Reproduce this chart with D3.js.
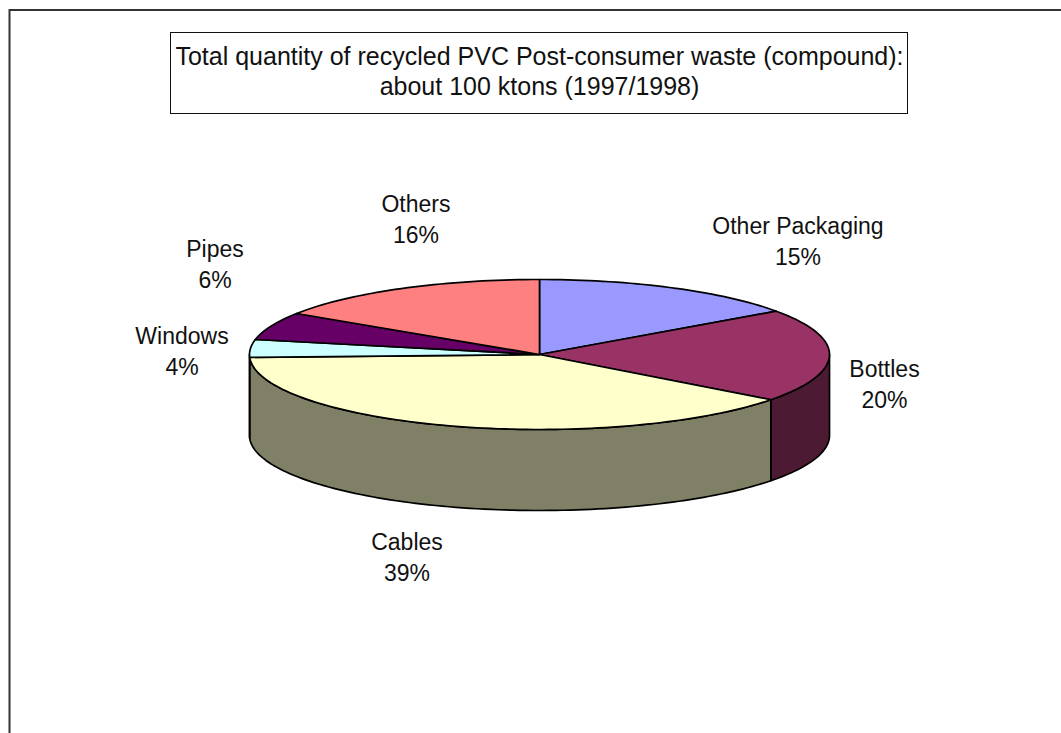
<!DOCTYPE html>
<html><head><meta charset="utf-8">
<script src="https://cdn.jsdelivr.net/npm/d3@7/dist/d3.min.js"></script>
<style>html,body{margin:0;padding:0;background:#fff;overflow:hidden}svg{display:block}text{font-family:"Liberation Sans",Arial,sans-serif;fill:#111}</style>
</head><body><svg id="c" width="1061" height="733"></svg>
<script>
const categories = ["Other Packaging","Bottles","Cables","Windows","Pipes","Others"];
const values = [15.2, 20.1, 39.1, 3.8, 6, 15.8];
const topColors = ["#9999ff","#993366","#ffffcc","#ccffff","#660066","#ff8080"];
const sideColors = ["#4d4d80","#4d1a33","#808066","#668080","#330033","#804040"];
const titleLines = ["Total quantity of recycled PVC Post-consumer waste (compound):","about 100 ktons (1997/1998)"];

const cx=539.5, cy=354.5, rx=290, ry=75, depth=81;
const labelPos = [[798,234],[884.5,377],[407,550],[182,344],[215,257],[416,212]];

const svg=d3.select("#c");
svg.append("path").attr("d",d3.line()([[9.5,760],[9.5,10],[1075,10]])).attr("fill","none").attr("stroke","#333").attr("stroke-width",2);
svg.append("rect").attr("x",170.5).attr("y",32.5).attr("width",737).attr("height",81).attr("fill","#fff").attr("stroke","#111").attr("stroke-width",1);
svg.selectAll("text.t").data(titleLines).join("text").attr("class","t")
  .attr("x",539.5).attr("y",(d,i)=>65+i*30).attr("text-anchor","middle").attr("font-size",25).text(d=>d);

const arcs=d3.pie().sort(null).value(d=>d)(values);
const sx=d3.scaleLinear().domain([-1,1]).range([cx-rx,cx+rx]);
const sy=d3.scaleLinear().domain([-1,1]).range([cy-ry,cy+ry]);
const pt=(a,dy=0)=>[sx(Math.sin(a)),sy(-Math.cos(a))+dy];
const samples=(a0,a1)=>{const n=Math.max(2,Math.ceil((a1-a0)*40));return d3.range(n+1).map(i=>a0+(a1-a0)*i/n);};
const line=d3.line();

// Visible outer wall: the front half of the rim, from 90deg to 270deg
const wall=svg.append("g");
arcs.forEach((d,i)=>{
  const a0=Math.max(d.startAngle,Math.PI/2), a1=Math.min(d.endAngle,Math.PI*1.5);
  if(a1<=a0) return;
  const s=samples(a0,a1);
  const poly=s.map(a=>pt(a)).concat(s.slice().reverse().map(a=>pt(a,depth)));
  wall.append("path").attr("d",line(poly)+"Z").attr("fill",sideColors[i]).attr("stroke","#000").attr("stroke-width",1.7).attr("stroke-linejoin","round");
});

// Elliptical top slices
svg.append("g").selectAll("path").data(arcs).join("path")
  .attr("d",d=>line([[cx,cy]].concat(samples(d.startAngle,d.endAngle).map(a=>pt(a))))+"Z")
  .attr("fill",(d,i)=>topColors[i]).attr("stroke","#000").attr("stroke-width",1.7).attr("stroke-linejoin","round");

const fmt=d3.format(".0f");
const lab=svg.append("g").selectAll("text").data(arcs).join("text").attr("text-anchor","middle").attr("font-size",23);
lab.append("tspan").attr("x",(d,i)=>labelPos[i][0]).attr("y",(d,i)=>labelPos[i][1]).text((d,i)=>categories[i]);
lab.append("tspan").attr("x",(d,i)=>labelPos[i][0]).attr("y",(d,i)=>labelPos[i][1]+31).text(d=>fmt(d.value)+"%");
</script></body></html>
